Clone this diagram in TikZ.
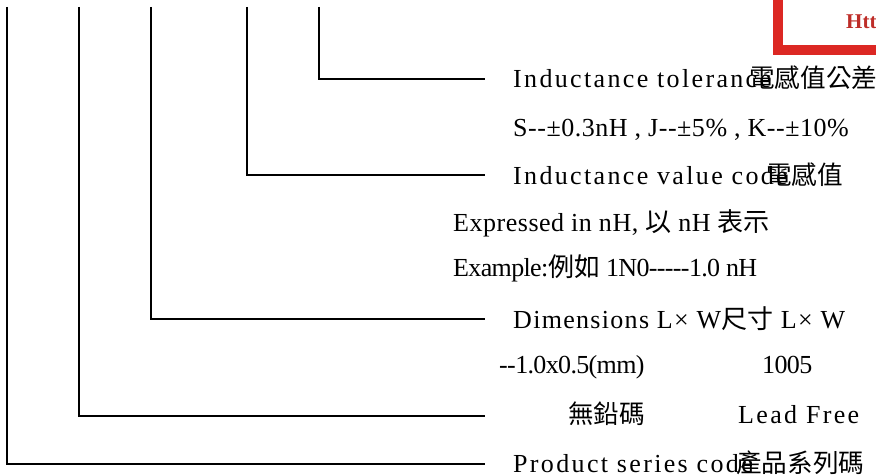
\documentclass[tikz,border=0pt]{standalone}
\usepackage{fontspec}
\setmainfont{Liberation Serif}
\newfontfamily\cjk{Noto Sans CJK TC}
\newfontfamily\spaced[LetterSpace=9]{Liberation Serif}
\newfontfamily\plain[LetterSpace=2]{Liberation Serif}
\newfontfamily\wide[LetterSpace=5]{Liberation Serif}
\newfontfamily\tight[LetterSpace=-2.5]{Liberation Serif}
\definecolor{stampred}{RGB}{220,40,35}
\definecolor{stamptext}{RGB}{190,45,40}
\usetikzlibrary{positioning}

\begin{document}
\begin{tikzpicture}[x=0.5pt, y=-0.5pt, line width=1.2pt,
    lbl/.style={anchor=base west, inner sep=0pt, font=\spaced\fontsize{13}{15}\selectfont},
    sub/.style={anchor=base west, inner sep=0pt, font=\plain\fontsize{13}{15}\selectfont},
    subwide/.style={anchor=base west, inner sep=0pt, font=\wide\fontsize{13}{15}\selectfont},
    subtight/.style={anchor=base west, inner sep=0pt, font=\tight\fontsize{13}{15}\selectfont},
    zh/.style={anchor=base west, inner sep=0pt, font=\cjk\fontsize{12.8}{15}\selectfont}]
    \useasboundingbox (0,0) rectangle (876,475);
    \clip (0,0) rectangle (876,475);
    % stamp in the corner
    \draw[draw=stampred, line width=5pt, fill=white] (778,-20) rectangle (900,50.5);
    \node(stamp) [anchor=base west, inner sep=0pt, text=stamptext, font=\bfseries\fontsize{10.5}{12}\selectfont] at (845,29) {Htt};

    \coordinate(t1) at (7,7);
    \coordinate(t2) at (79,7);
    \coordinate(t3) at (151,7);
    \coordinate(t4) at (247,7);
    \coordinate(t5) at (319,7);
    \coordinate(e1) at (485,464);
    \coordinate(e2) at (485,416);
    \coordinate(e3) at (485,319);
    \coordinate(e4) at (485,175);
    \coordinate(e5) at (485,79);

    \node(tol) [lbl] at (512,88) {Inductance tolerance};
    \node(tolzh) [zh] at (748,88) {電感值公差};
    \node(tolcode) [sub] at (512,137) {S--±0.3nH , J--±5\% , K--±10\%};
    \node(val) [lbl] at (512,185) {Inductance value code};
    \node(valzh) [zh] at (765,185) {電感值};
    \node(expr) [sub] at (452,232) {Expressed in nH, {\cjk 以} nH {\cjk 表示}};
    \node(exmp) [subtight] at (452,277) {Example:{\cjk 例如} 1N0-----1.0 nH};
    \node(dim) [subwide] at (512,328) {Dimensions L× W{\cjk 尺寸} L× W};
    \node(size) [subtight] at (498,373) {--1.0x0.5(mm)};
    \node(sizecode) [subtight] at (761,373) {1005};
    \node(leadzh) [zh] at (567,423) {無鉛碼};
    \node(lead) [lbl] at (737,423) {Lead Free};
    \node(prod) [lbl] at (512,472) {Product series code};
    \node(prodzh) [zh] at (735,472) {產品系列碼};

    \draw(t5) |- (e5);
    \draw(t4) |- (e4);
    \draw(t3) |- (e3);
    \draw(t2) |- (e2);
    \draw(t1) |- (e1);
\end{tikzpicture}
\end{document}
